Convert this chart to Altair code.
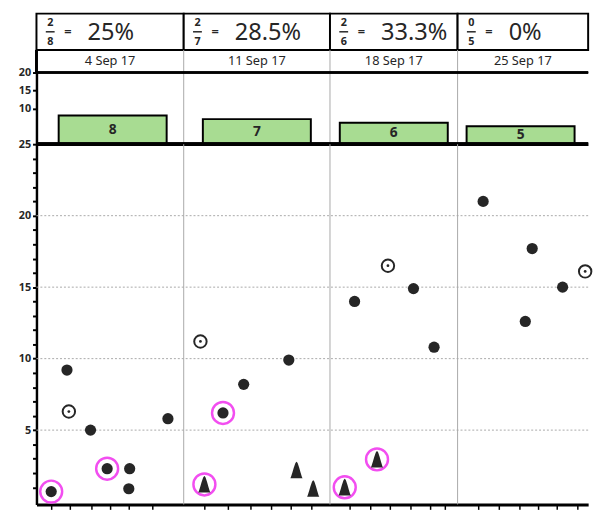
import altair as alt
import pandas as pd

FONT = "Noto Sans"
GREEN = "#a8dc92"
PINK = "#f24ef0"
INK = "#262626"

# ---- data ----
week_start = [0, 7, 14, 21]
week_labels = ["4 Sep 17", "11 Sep 17", "18 Sep 17", "25 Sep 17"]
numerators = ["2", "2", "2", "0"]
denominators = ["8", "7", "6", "5"]
percent_text = ["25%", "28.5%", "33.3%", "0%"]
bar_counts = [8, 7, 6, 5]
week_edges = [7, 14, 21]
y_gridlines = [5, 10, 15, 20]
y_ticks = list(range(1, 26))
bar_ticks = [10, 15, 20]
x_tick_days = [0.7, 1.6, 2.6, 3.5, 4.4, 5.5,
               8.0, 9.1, 10.2, 11.2, 12.1, 13.1,
               15.1, 16.2, 17.3, 18.4, 19.5, 20.3,
               22.1, 23.2, 24.3, 25.3, 26.3, 27.4]

pt_day = [0.70, 1.45, 1.54, 2.57, 3.36, 4.43, 4.39, 6.25,
          7.80, 12.03, 9.87, 8.88, 7.99, 12.40, 13.20,
          14.81, 16.58, 15.35, 17.18, 18.58, 19.71,
          22.37, 25.00, 26.63, 24.63, 27.84]
pt_value = [0.7, 9.2, 6.3, 5.0, 2.3, 2.3, 0.9, 5.8,
            11.2, 9.9, 8.2, 6.2, 1.2, 2.2, 0.9,
            1.0, 2.95, 14.0, 16.5, 14.9, 10.8,
            21.0, 17.7, 15.0, 12.6, 16.1]
pt_kind = ["dot", "dot", "ring", "dot", "dot", "dot", "dot", "dot",
           "ring", "dot", "dot", "dot", "tri", "tri", "tri",
           "tri", "tri", "dot", "ring", "dot", "dot",
           "dot", "dot", "dot", "dot", "ring"]
pt_marked = [True, False, False, False, True, False, False, False,
             False, False, False, True, True, False, False,
             True, True, False, False, False, False,
             False, False, False, False, False]

wk = pd.DataFrame({"start": week_start, "label": week_labels, "num": numerators,
                   "den": denominators, "pct": percent_text, "count": bar_counts})
wk["end"] = wk["start"] + 7
wk["mid"] = wk["start"] + 3.5
edges = pd.DataFrame({"d": week_edges})
hgrid = pd.DataFrame({"v": y_gridlines})
pts = pd.DataFrame({"day": pt_day, "value": pt_value, "kind": pt_kind, "marked": pt_marked})

W = 562
x_scale = alt.Scale(domain=[0, 7, 14, 21, 28], range=[0, 150, 299, 429, 562], nice=False, zero=False)


def X(field):
    return alt.X(field, type="quantitative", scale=x_scale, axis=None)


vlines = alt.Chart(edges).mark_rule(color="#a8a8a8", strokeWidth=1).encode(x=X("d"))

# ---- panel 1: ratio boxes ----
base1 = alt.Chart(wk)
boxes = base1.mark_rect(fill="white", stroke="black", strokeWidth=2).encode(x=X("start"), x2="end:Q")
num = base1.mark_text(dx=14, dy=-9, fontSize=11, fontWeight="bold", font=FONT, color=INK).encode(
    x=X("start"), text="num:N")
den = base1.mark_text(dx=14, dy=10, fontSize=11, fontWeight="bold", font=FONT, color=INK).encode(
    x=X("start"), text="den:N")
frac_bar = base1.mark_tick(orient="horizontal", size=9, thickness=1.5, xOffset=14, color=INK, opacity=1).encode(
    x=X("start"))
eq = base1.mark_text(dx=32, dy=0, fontSize=13, fontWeight="bold", font=FONT, color=INK, text="=").encode(
    x=X("start"))
pct = base1.mark_text(dx=52, dy=1, align="left", fontSize=24, font=FONT, color=INK).encode(
    x=X("start"), text="pct:N")
panel1 = alt.layer(boxes, num, den, frac_bar, eq, pct).properties(width=W, height=37)

# ---- panel 2: week headers ----
hdr_text = alt.Chart(wk).mark_text(fontSize=13, font=FONT, color=INK).encode(x=X("mid"), text="label:N")
hdr_left = alt.Chart(edges).mark_rule(color="black", strokeWidth=2.5).encode(
    x=alt.datum(0, scale=x_scale, axis=None))
panel2 = alt.layer(vlines, hdr_left, hdr_text).properties(width=W, height=23)

# ---- panel 3: bar counts ----
bar_y = alt.Scale(domain=[0, 20], nice=False, zero=True)
bar_axis = alt.Axis(values=bar_ticks, title=None, grid=False, labelFont=FONT, labelFontSize=11,
                    labelFontWeight="bold", labelColor=INK, labelOverlap=False, tickSize=4, tickWidth=2,
                    tickColor="black", domainColor="black", domainWidth=2.5, labelPadding=2)
bars = alt.Chart(wk).mark_bar(size=110, fill=GREEN, stroke="black", strokeWidth=2).encode(
    x=X("mid"), y=alt.Y("count:Q", scale=bar_y, axis=bar_axis))
bar_lbl = alt.Chart(wk).transform_calculate(half="datum.count / 2").mark_text(
    fontSize=14, fontWeight="bold", font=FONT, color=INK).encode(
    x=X("mid"), y=alt.Y("half:Q", scale=bar_y, axis=bar_axis), text="count:Q")
bar_top = alt.Chart(wk).mark_rule(color="black", strokeWidth=2).encode(
    y=alt.datum(20, scale=bar_y, axis=bar_axis))
bar_base = alt.Chart(wk).mark_rule(color="black", strokeWidth=3.5).encode(
    y=alt.datum(0, scale=bar_y, axis=bar_axis))
panel3 = alt.layer(vlines, bars, bar_lbl, bar_top, bar_base).properties(width=W, height=73)

# ---- panel 4: scatter ----
y_scale = alt.Scale(domain=[-0.2, 25], nice=False, zero=False)
y_axis = alt.Axis(values=y_ticks, labelExpr="datum.value % 5 === 0 ? datum.label : ''",
                  title=None, grid=False, labelFont=FONT, labelFontSize=11, labelFontWeight="bold",
                  labelColor=INK, labelOverlap=False, tickSize=4, tickWidth=2, tickColor="black",
                  domainColor="black", domainWidth=2.5, labelPadding=2)
x_axis = alt.Axis(values=x_tick_days, labels=False, title=None, grid=False, tickSize=5, tickWidth=1.5,
                  tickColor="black", domainColor="black", domainWidth=3)
xs = alt.X("day:Q", scale=x_scale, axis=x_axis)
ys = alt.Y("value:Q", scale=y_scale, axis=y_axis)

hlines = alt.Chart(hgrid).mark_rule(color="#a8a8a8", strokeWidth=1, strokeDash=[2, 2]).encode(
    x=alt.value(0), x2=alt.value(W), y=alt.Y("v:Q", scale=y_scale, axis=y_axis))
vlines4 = alt.Chart(edges).mark_rule(color="#a8a8a8", strokeWidth=1).encode(
    x=alt.X("d:Q", scale=x_scale, axis=x_axis))
base4 = alt.Chart(pts)
dots = base4.transform_filter("datum.kind === 'dot'").mark_circle(size=130, color=INK, opacity=1).encode(
    x=xs, y=ys)
rings = base4.transform_filter("datum.kind === 'ring'").mark_point(
    shape="circle", size=160, filled=False, stroke=INK, strokeWidth=2, opacity=1).encode(x=xs, y=ys)
ring_c = base4.transform_filter("datum.kind === 'ring'").mark_circle(size=8, color=INK, opacity=1).encode(
    x=xs, y=ys)
cone = "M0,-1 C0.2,-1 0.55,0.7 0.72,0.95 L-0.72,0.95 C-0.55,0.7 -0.2,-1 0,-1 Z"
tris = base4.transform_filter("datum.kind === 'tri'").mark_point(
    shape=cone, size=300, filled=True, color=INK, opacity=1).encode(x=xs, y=ys)
marks = base4.transform_filter("datum.marked").mark_point(
    shape="circle", size=500, filled=False, stroke=PINK, strokeWidth=2.5, opacity=1).encode(x=xs, y=ys)
panel4 = alt.layer(vlines4, hlines, marks, dots, rings, ring_c, tris).properties(width=W, height=367)

chart = alt.vconcat(panel1, panel2, panel3, panel4, spacing=0, bounds="flush").configure_view(
    stroke=None).properties(padding={"left": 10, "top": 0, "right": 0, "bottom": 0})

chart.save("out.html", embed_options={"renderer": "svg", "actions": False})
